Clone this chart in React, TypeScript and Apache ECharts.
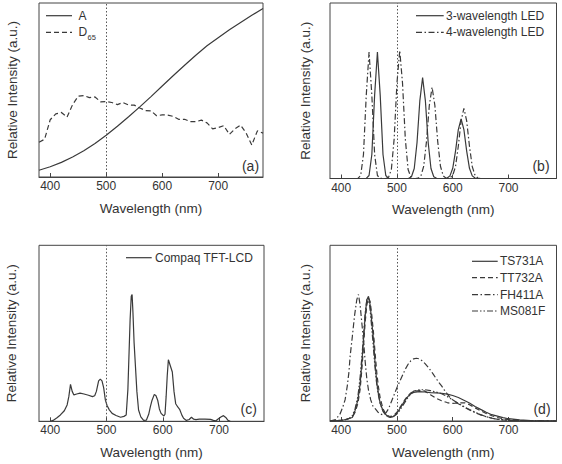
import React, { useEffect, useRef } from 'react';
import * as echarts from 'echarts';

// ---------- Panel (a): CIE illuminants ----------
const aNm = [380, 400, 420, 440, 460, 480, 500, 520, 540, 560, 580, 600, 620, 640, 660, 680, 700, 720, 740, 760, 780];
const aVal = [3.9, 5.9, 8.4, 11.5, 15.1, 19.3, 24.0, 29.2, 34.6, 40.3, 46.2, 52.3, 58.3, 64.2, 70.0, 75.4, 80.0, 84.6, 88.8, 92.9, 96.8];

const d65Nm = [380, 390, 400, 410, 420, 430, 440, 450, 460, 470, 480, 490, 500, 510, 520, 530, 540, 550, 560, 570, 580, 590, 600, 610, 620, 630, 640, 650, 660, 670, 680, 690, 700, 710, 720, 730, 740, 750, 760, 770, 780];
const d65Val = [20, 21.7, 32.9, 36.3, 37.1, 34.4, 41.6, 46.4, 46.8, 45.6, 46.0, 43.2, 43.4, 42.8, 41.6, 42.8, 41.4, 41.3, 39.7, 38.2, 38.0, 35.2, 35.7, 35.6, 34.8, 33.1, 33.2, 31.8, 31.8, 32.7, 31.1, 27.7, 28.4, 29.5, 24.5, 27.7, 29.8, 25.2, 18.4, 26.5, 25.2];

// ---------- Panel (b): LEDs ----------
const led3Nm = [380, 440, 445, 450, 455, 460, 465, 470, 475, 480, 485, 490, 516, 521, 526, 531, 536, 541, 546, 551, 556, 561, 566, 571, 576, 585, 590, 595, 600, 605, 610, 615, 620, 625, 630, 635, 640, 645, 785];
const led3Val = [0, 0, 0.1, 1.7, 13.7, 47.5, 72, 47.5, 13.7, 1.7, 0.1, 0, 0, 0.1, 1.0, 5.7, 20.5, 44.2, 57.5, 44.2, 20.5, 5.7, 1.0, 0.1, 0, 0, 0.3, 1.5, 5.8, 15.6, 27.9, 34, 27.9, 15.6, 5.8, 1.5, 0.3, 0, 0];

const led4Nm = [380, 425, 430, 435, 440, 445, 450, 455, 460, 465, 470, 475, 480, 485, 490, 495, 500, 505, 510, 515, 520, 525, 530, 533, 538, 543, 548, 553, 558, 563, 568, 573, 578, 583, 588, 590, 595, 600, 605, 610, 615, 620, 625, 630, 635, 640, 645, 650, 785];
const led4Val = [0, 0, 0.1, 1.7, 13.7, 47.5, 72, 47.5, 13.7, 1.7, 0.1, 0, 0, 0.7, 5.1, 22.6, 54.3, 73, 54.3, 22.6, 5.1, 0.7, 0, 0, 0.2, 1.5, 7.0, 21.3, 41.6, 52, 41.6, 21.3, 7.0, 1.5, 0.2, 0, 0.3, 1.8, 6.8, 18.4, 32.8, 40, 32.8, 18.4, 6.8, 1.8, 0.3, 0, 0];

// ---------- Panel (c): Compaq TFT-LCD ----------
const lcdNm = [400, 405, 412, 418, 425, 430, 433, 436, 439, 442, 447, 453, 460, 468, 475, 479, 482, 486, 489, 492, 495, 498, 501, 505, 510, 517, 525, 531, 535, 538, 540, 542, 544, 545.5, 547, 549, 551.5, 554, 557, 561, 566, 571, 575, 578, 581, 585, 588, 591, 594, 597, 602, 604, 606, 608, 610, 613, 617, 620, 623, 627, 630, 634, 637, 642, 647, 651, 655, 659, 665, 675, 685, 690, 694, 699, 704, 708, 712, 716, 720];
const lcdVal = [0, 0.5, 2, 3.6, 6, 9.3, 14, 21, 17, 15, 15.5, 16, 15.5, 14.8, 14, 14.5, 17, 23, 24, 23, 19, 12, 9, 6.5, 4.5, 3.3, 2.3, 2.8, 3.6, 18, 38, 58, 71, 72, 62, 45, 31, 17, 6.4, 2.5, 0.5, 0.7, 4, 8.3, 12, 15.3, 14.5, 12, 7, 4.5, 3, 4, 14, 26, 35, 32, 28, 17, 10, 8, 6.8, 3.5, 1.7, 0.5, 1, 2.3, 1.2, 1, 1.2, 1.2, 1.1, 0.5, 0.2, 1.5, 2.6, 3.2, 2.2, 0.5, 0];

// ---------- Panel (d): four displays ----------
const ts731Nm = [380, 400, 410, 420, 425, 430, 434, 437, 440, 443, 446, 449, 452, 455, 458, 461, 464, 467, 470, 475, 479, 484, 488, 492, 496, 500, 505, 510, 515, 520, 525, 530, 540, 550, 560, 570, 580, 590, 600, 610, 620, 630, 640, 650, 660, 670, 680, 690, 700, 720, 740, 760, 785];
const ts731Val = [0, 0.3, 1, 2, 6, 12, 21, 33, 46, 60, 69, 71, 66, 56, 46, 32, 21.5, 15, 10, 6, 4, 2.5, 2, 2.3, 3.2, 4.5, 7, 9.5, 12, 14, 15.5, 16.3, 16.7, 16.5, 16.2, 16, 15.8, 15.3, 14.5, 13.4, 11.8, 10.2, 8.3, 6.6, 5, 3.6, 2.8, 1.9, 1.3, 0.6, 0.2, 0.1, 0];

const tt732Nm = [380, 400, 410, 420, 425, 430, 434, 437, 440, 443, 446, 449, 452, 455, 458, 461, 464, 467, 470, 475, 480, 485, 490, 495, 500, 505, 510, 515, 520, 525, 530, 540, 545, 550, 560, 570, 580, 590, 597, 605, 615, 622, 630, 640, 650, 660, 670, 680, 690, 700, 720, 740, 785];
const tt732Val = [0, 0.3, 1, 2.2, 5, 10, 18, 29, 42, 56, 66, 70, 68, 60, 50, 38, 27, 19, 13, 7, 4, 2.8, 2.6, 3.5, 5, 7.5, 10, 12.5, 14.5, 16, 16.8, 17.3, 17.5, 17, 15, 13, 11.5, 10.5, 10, 10.1, 10.3, 10.3, 9.3, 7.5, 5.8, 4.3, 3, 2, 1.3, 0.8, 0.3, 0.1, 0];

const fh411Nm = [380, 390, 398, 403, 407, 411, 414, 416, 420, 424, 428, 431, 434, 437, 440, 443, 446, 449, 453, 457, 461, 466, 470, 475, 480, 485, 490, 495, 500, 505, 510, 515, 520, 525, 530, 535, 540, 545, 550, 555, 560, 565, 570, 575, 580, 585, 590, 595, 600, 610, 620, 630, 640, 650, 660, 670, 680, 690, 700, 720, 785];
const fh411Val = [0, 0.8, 4, 8, 12, 20, 28, 36.6, 48, 60, 69, 72, 66, 56, 46, 34, 24, 17.6, 12, 8.5, 7, 5, 4, 3.5, 4.5, 7, 11, 15, 19, 22.5, 26, 29.5, 32.3, 34.3, 35.4, 35.7, 35.4, 34.3, 32.8, 31, 29, 26.7, 24.3, 22, 20, 17.6, 15.5, 13.5, 12, 9.8, 8, 6.3, 4.8, 3.5, 2.4, 1.6, 1, 0.6, 0.4, 0.2, 0];

const ms081Nm = [380, 405, 415, 420, 425, 430, 434, 437, 440, 443, 446, 448, 451, 454, 457, 460, 463, 466, 470, 475, 480, 485, 490, 495, 500, 505, 510, 515, 520, 525, 530, 540, 550, 560, 570, 580, 590, 600, 610, 620, 630, 640, 650, 660, 670, 680, 700, 720, 785];
const ms081Val = [0, 0.5, 1.5, 3, 7, 14, 25, 36, 48, 61, 69, 70, 66, 56, 45, 33, 23, 16, 10, 5.5, 3.3, 2.3, 2.2, 2.8, 4, 6, 8.5, 11, 13.5, 15.5, 17, 17.8, 17.8, 17.3, 16.5, 15.5, 14, 12, 10, 8.2, 6.5, 5, 3.6, 2.5, 1.6, 1, 0.4, 0.2, 0];

const tickValues = [400, 500, 600, 700];
const panelLabels = ['(a)', '(b)', '(c)', '(d)'];

const zip = (xs: number[], ys: number[]) => xs.map((x, i) => [x, ys[i]]);

const FONT = '"Liberation Sans", Arial, Helvetica, sans-serif';
const INK = '#333333';
const LINE = '#3a3a3a';
const FRAME = '#444444';

const SOLID: any = 'solid';
const DASHED = [5, 3];
const DASH_DOT = [6, 2.5, 1.5, 2.5];
const DASH_DOT_DOT = [6, 2, 1.5, 2, 1.5, 2];
const DOTTED = [1.5, 2];

const layout = [
  { left: 39, top: 3, width: 224, height: 174, xMax: 780, yGap: 20, lab: [250.5, 166] },
  { left: 330, top: 3, width: 226.5, height: 175.5, xMax: 786, yGap: 18, lab: [541, 165.7] },
  { left: 39, top: 245.3, width: 225, height: 176, xMax: 780, yGap: 20.5, lab: [248.7, 408.7] },
  { left: 330, top: 245.3, width: 226.5, height: 175.7, xMax: 786, yGap: 18, lab: [542, 408.7] },
];

function lineSeries(name: string, data: number[][], idx: number, dash: any, withMark = false) {
  const s: any = {
    name,
    type: 'line',
    xAxisIndex: idx,
    yAxisIndex: idx,
    data,
    symbol: 'none',
    showSymbol: false,
    smooth: false,
    z: 3,
    lineStyle: { color: LINE, width: 1.2, type: dash },
  };
  if (withMark) {
    s.markLine = {
      silent: true,
      symbol: ['none', 'none'],
      label: { show: false },
      lineStyle: { color: '#555', width: 1, type: DOTTED },
      data: [{ xAxis: 500 }],
    };
  }
  return s;
}

function legendItems(x1: number, x2: number, tx: number, rows: { y: number; dash: any; text: string }[]) {
  const els: any[] = [];
  rows.forEach((r) => {
    els.push({
      type: 'line',
      shape: { x1, y1: r.y, x2, y2: r.y },
      style: { stroke: LINE, lineWidth: 1.2, lineDash: r.dash === SOLID ? null : r.dash },
    });
    if (r.text) {
      els.push({
        type: 'text',
        x: tx,
        y: r.y,
        style: {
          text: r.text,
          fill: INK,
          fontSize: 12,
          fontFamily: FONT,
          align: 'left',
          verticalAlign: 'middle',
          textAlign: 'left',
          textVerticalAlign: 'middle',
        },
      });
    }
  });
  return els;
}

export default function App() {
  const ref = useRef<HTMLDivElement>(null);

  useEffect(() => {
    if (!ref.current) return;
    const chart = echarts.init(ref.current, undefined, { renderer: 'svg' });

    const grid = layout.map((l) => ({
      left: l.left,
      top: l.top,
      width: l.width,
      height: l.height,
      show: true,
      borderColor: FRAME,
      borderWidth: 1,
      backgroundColor: 'transparent',
      containLabel: false,
    }));

    const xAxis = layout.map((l, i) => ({
      gridIndex: i,
      type: 'value',
      min: 380,
      max: l.xMax,
      axisLine: { show: true, lineStyle: { color: FRAME, width: 1 } },
      axisTick: { show: true, inside: true, length: 4, customValues: tickValues, lineStyle: { color: FRAME } },
      axisLabel: { show: true, customValues: tickValues, margin: 3, color: INK, fontSize: 12, fontFamily: FONT },
      splitLine: { show: false },
      name: 'Wavelength (nm)',
      nameLocation: 'middle',
      nameGap: 24,
      nameTextStyle: { color: INK, fontSize: 13.5, fontFamily: FONT },
    }));

    const yAxis = layout.map((l, i) => ({
      gridIndex: i,
      type: 'value',
      min: 0,
      max: 100,
      axisLine: { show: false },
      axisTick: { show: false },
      axisLabel: { show: false },
      splitLine: { show: false },
      name: 'Relative Intensity (a.u.)',
      nameLocation: 'middle',
      nameGap: l.yGap,
      nameRotate: 90,
      nameTextStyle: { color: INK, fontSize: 13.5, fontFamily: FONT },
    }));

    const series = [
      lineSeries('A', zip(aNm, aVal), 0, SOLID, true),
      lineSeries('D65', zip(d65Nm, d65Val), 0, DASHED),
      lineSeries('3-wavelength LED', zip(led3Nm, led3Val), 1, SOLID, true),
      lineSeries('4-wavelength LED', zip(led4Nm, led4Val), 1, DASH_DOT),
      lineSeries('Compaq TFT-LCD', zip(lcdNm, lcdVal), 2, SOLID, true),
      lineSeries('TS731A', zip(ts731Nm, ts731Val), 3, SOLID, true),
      lineSeries('TT732A', zip(tt732Nm, tt732Val), 3, DASHED),
      lineSeries('FH411A', zip(fh411Nm, fh411Val), 3, DASH_DOT),
      lineSeries('MS081F', zip(ms081Nm, ms081Val), 3, DASH_DOT_DOT),
    ];

    const graphic: any[] = [
      ...legendItems(46, 72, 78.5, [
        { y: 15.7, dash: SOLID, text: 'A' },
        { y: 32.3, dash: DASHED, text: 'D' },
      ]),
      {
        type: 'text',
        x: 87.5,
        y: 37,
        style: { text: '65', fill: INK, fontSize: 7.5, fontFamily: FONT, align: 'left', verticalAlign: 'middle', textAlign: 'left', textVerticalAlign: 'middle' },
      },
      ...legendItems(416, 443.7, 446, [
        { y: 15.7, dash: SOLID, text: '3-wavelength LED' },
        { y: 32.3, dash: DASH_DOT, text: '4-wavelength LED' },
      ]),
      ...legendItems(126, 151.7, 155, [{ y: 257.7, dash: SOLID, text: 'Compaq TFT-LCD' }]),
      ...legendItems(472, 497.7, 500, [
        { y: 261.3, dash: SOLID, text: 'TS731A' },
        { y: 277.7, dash: DASHED, text: 'TT732A' },
        { y: 294.7, dash: DASH_DOT, text: 'FH411A' },
        { y: 311, dash: DASH_DOT_DOT, text: 'MS081F' },
      ]),
      ...layout.map((l, i) => ({
        type: 'text',
        x: l.lab[0],
        y: l.lab[1],
        style: {
          text: panelLabels[i],
          fill: INK,
          fontSize: 14,
          fontFamily: FONT,
          align: 'center',
          verticalAlign: 'middle',
          textAlign: 'center',
          textVerticalAlign: 'middle',
        },
      })),
    ];

    chart.setOption({
      animation: false,
      backgroundColor: '#ffffff',
      textStyle: { fontFamily: FONT },
      grid,
      xAxis,
      yAxis,
      series,
      graphic,
    });

    return () => chart.dispose();
  }, []);

  return <div ref={ref} style={{ position: 'absolute', left: 0, top: 0, width: 562, height: 464 }} />;
}
